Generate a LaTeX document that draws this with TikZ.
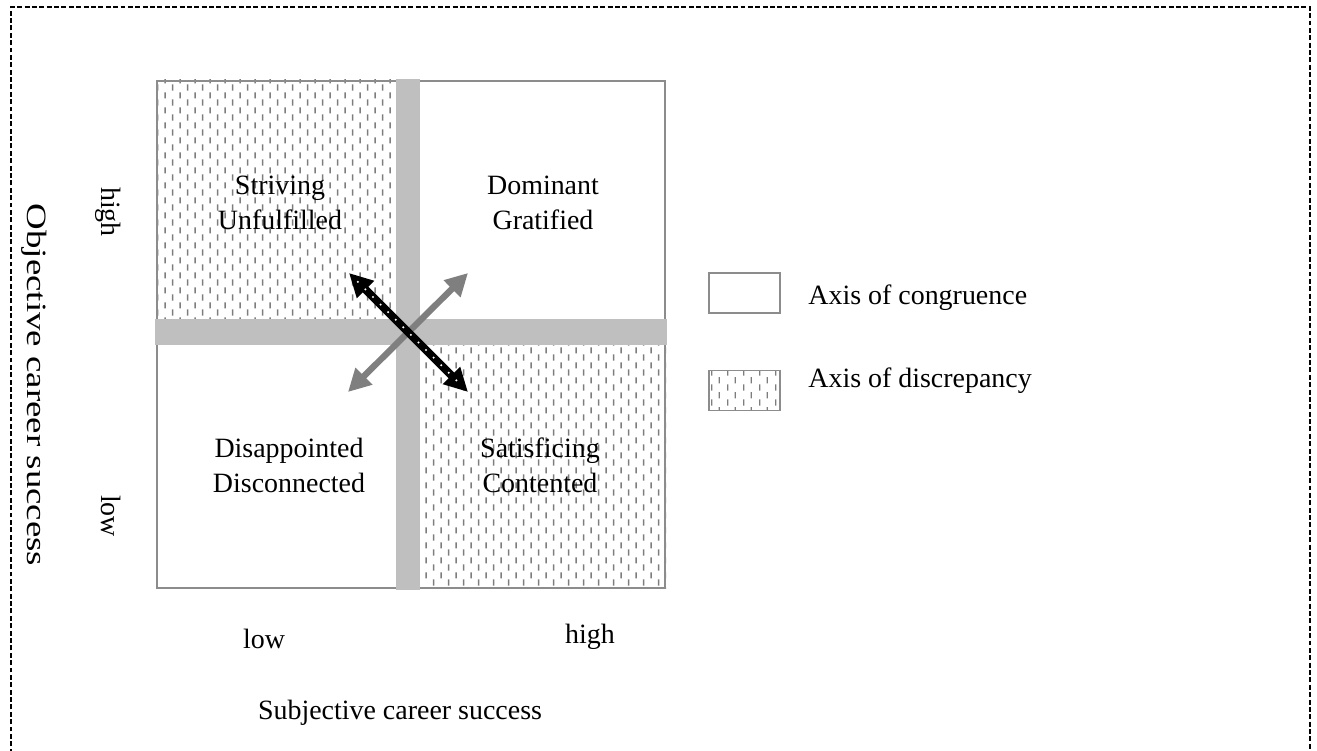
\documentclass[tikz,border=0pt]{standalone}
\usepackage{fontspec}
\setmainfont{Liberation Serif}
\usetikzlibrary{arrows.meta,patterns}
\definecolor{bandgray}{RGB}{191,191,191}
\definecolor{bordergray}{RGB}{140,140,140}
\definecolor{arrowgray}{RGB}{127,127,127}
\definecolor{dashgray}{RGB}{125,125,125}
% staggered short vertical dashes
\pgfdeclarepatternformonly{vdashes}{\pgfpointorigin}{\pgfpoint{0.308cm}{0.3cm}}{\pgfpoint{0.308cm}{0.3cm}}{%
  \pgfsetlinewidth{0.85pt}%
  \pgfpathmoveto{\pgfpoint{0.077cm}{0.01cm}}\pgfpathlineto{\pgfpoint{0.077cm}{0.14cm}}%
  \pgfpathmoveto{\pgfpoint{0.231cm}{0.16cm}}\pgfpathlineto{\pgfpoint{0.231cm}{0.29cm}}%
  \pgfusepath{stroke}}
\tikzset{page-border/.style={draw=black,line width=1.1pt,dash pattern=on 2.8pt off 1.4pt},
  square-border/.style={draw=bordergray,line width=1.1pt},
  discrep/.style={pattern=vdashes,pattern color=dashgray},
  band/.style={fill=bandgray},
  congruence/.style={draw=arrowgray,line width=3.6pt,{Triangle[length=0.45cm,width=0.45cm]}-{Triangle[length=0.45cm,width=0.45cm]}},
  discrepancy/.style={draw=black,line width=4.6pt,{Triangle[length=0.47cm,width=0.46cm]}-{Triangle[length=0.47cm,width=0.46cm]}},
  dots/.style={draw=white,line width=1.3pt,line cap=round,dash pattern=on 0pt off 6.1pt,shorten <=0.25cm,shorten >=0.25cm},
  quadrant-label/.style={align=center,inner sep=0pt,font=\fontsize{15.9}{19.9}\selectfont},
  axis-label/.style={inner sep=0pt,font=\fontsize{15.9}{19.9}\selectfont},
  legend-box/.style={draw=bordergray,line width=1.1pt,minimum width=1.43cm,minimum height=0.80cm,inner sep=0pt}}

\begin{document}
\begin{tikzpicture}
\useasboundingbox (0,0) rectangle (26.34,15.02);
\draw[page-border] (0.22,-0.2) rectangle (26.2,14.88);

% quadrants
\fill[discrep] (3.12,8.64) rectangle (7.92,13.42);
\fill[discrep] (8.40,3.24) rectangle (13.32,8.12);
\draw[square-border] (3.14,3.26) rectangle (13.30,13.40);
\fill[band] (7.92,3.22) rectangle (8.40,13.44);
\fill[band] (3.10,8.12) rectangle (13.34,8.64);

% axes of congruence and discrepancy
\coordinate (cong-lo) at (6.96,7.18);
\coordinate (cong-hi) at (9.36,9.56);
\coordinate (disc-tl) at (6.98,9.56);
\coordinate (disc-br) at (9.36,7.18);
\draw[congruence] (cong-lo) -- (cong-hi);
\draw[discrepancy] (disc-tl) -- (disc-br);
\draw[dots] (disc-tl) -- (disc-br);

\node[quadrant-label] (striving) at (5.60,10.96) {Striving\\Unfulfilled};
\node[quadrant-label] (dominant) at (10.86,10.96) {Dominant\\Gratified};
\node[quadrant-label] (disappointed) at (5.78,5.72) {Disappointed\\Disconnected};
\node[quadrant-label] (satisficing) at (10.80,5.72) {Satisficing\\Contented};

% axis labels
\node[axis-label,rotate=-90,anchor=base] (obj-high) at (2.04,10.78) {high};
\node[axis-label,rotate=-90,anchor=base] (obj-low) at (2.04,4.70) {low};
\node[axis-label,rotate=-90,anchor=base] (objective) at (0.56,7.32) {\scalebox{1.32}[1]{Objective career success}};
\node[axis-label,anchor=base] (subj-low) at (5.28,2.04) {low};
\node[axis-label,anchor=base] (subj-high) at (11.80,2.14) {high};
\node[axis-label,anchor=base] (subjective) at (8.00,0.62) {Subjective career success};

% legend
\node[legend-box] (leg-cong) at (14.89,9.16) {};
\node[axis-label,anchor=base west] (leg-cong-text) at (16.16,8.92) {Axis of congruence};
\node[legend-box,discrep] (leg-disc) at (14.89,7.21) {};
\node[axis-label,anchor=base west] (leg-disc-text) at (16.16,7.26) {Axis of discrepancy};
\end{tikzpicture}
\end{document}
